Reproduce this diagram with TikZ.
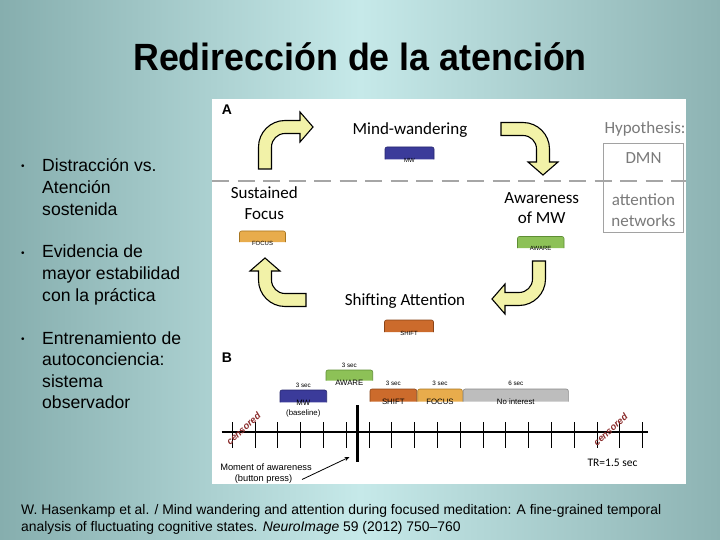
\documentclass[tikz,border=0pt]{standalone}
\usepackage{fontspec}
\setmainfont{Liberation Sans}
\newfontfamily\calfont{Carlito}
\usetikzlibrary{arrows.meta}
\definecolor{bgL}{HTML}{86AEAE}
\definecolor{bgM}{HTML}{C6E9E9}
\definecolor{bgR}{HTML}{8DB3B3}
\definecolor{arrfill}{HTML}{F2F2A8}
\definecolor{mwc}{HTML}{3B3B9A}
\definecolor{mwd}{HTML}{26266E}
\definecolor{awc}{HTML}{8DC157}
\definecolor{awd}{HTML}{5E8E34}
\definecolor{shc}{HTML}{CC6B2C}
\definecolor{shd}{HTML}{8A4418}
\definecolor{foc}{HTML}{E8AC4C}
\definecolor{fod}{HTML}{A87620}
\definecolor{nic}{HTML}{BDBDBD}
\definecolor{nid}{HTML}{888888}
\definecolor{censc}{HTML}{8A2B2B}
\definecolor{hypc}{HTML}{7A7A7A}
\newcommand\cyarrow[5]{%
\begin{scope}[shift={(#1,#2)},rotate=#3]
\filldraw[arrowshape] (-6.5,0) -- (-6.5,{-(#4-20)})
 .. controls (-6.5,{-(#4-20)-14.6}) and ({20-14.6},{-(#4+6.5)}) .. (20,{-(#4+6.5)})
 -- ({#5-13},{-(#4+6.5)}) -- ({#5-13},{-(#4+15)}) -- (#5,-#4) -- ({#5-13},{-(#4-15)})
 -- ({#5-13},{-(#4-6.5)}) -- (20,{-(#4-6.5)})
 .. controls ({20-7.45},{-(#4-6.5)}) and (6.5,{-(#4-20)-7.45}) .. (6.5,{-(#4-20)})
 -- (6.5,0) -- cycle;
\end{scope}}
\newcommand\tabbar[6]{% x1,y1,x2,y2,fill,draw
\filldraw[fill=#5,draw=#6,line width=0.6,rounded corners=2] (#1,#4) -- (#1,#2) -- (#3,#2) -- (#3,#4);}
\begin{document}
\begin{tikzpicture}[x=1pt,y=-1pt,
  arrowshape/.style={fill=arrfill,draw=black,line width=1.1,line join=miter},
  bullettext/.style={anchor=base west,inner sep=0,font=\fontsize{17.6}{20}\selectfont},
  bulletdot/.style={anchor=base,inner sep=0,font=\fontsize{10}{12}\selectfont},
  lblA/.style={anchor=base,inner sep=0,font=\calfont\fontsize{17}{20}\selectfont},
  hyp/.style={anchor=base,inner sep=0,text=hypc,font=\calfont\fontsize{17}{20}\selectfont},
  tinylbl/.style={inner sep=0,font=\fontsize{6}{7}\selectfont},
  seclbl/.style={inner sep=0,font=\fontsize{6.3}{7}\selectfont},
  barlbl/.style={inner sep=0,font=\fontsize{7.8}{9}\selectfont},
  cens/.style={inner sep=0,text=censc,rotate=42,font=\fontsize{9.5}{12}\selectfont\bfseries\itshape},
  tick/.style={line width=1.1},
  foot/.style={anchor=base west,inner sep=0,font=\fontsize{13.9}{16}\selectfont}]
\useasboundingbox (0,0) rectangle (720,540);
\shade[left color=bgL,right color=bgR,middle color=bgM] (0,0) rectangle (720,540);
% title
\node[anchor=base,inner sep=0,font=\fontsize{35.8}{40}\selectfont\bfseries] (title) at (360,70.7) {\scalebox{1}[1.06]{Redirección de la atención}};
% bullets
\node[bulletdot] (d1) at (23,170) {•};
\node[bullettext] (b11) at (42,172) {Distracción vs.};
\node[bullettext] (b12) at (42,193.6) {Atención};
\node[bullettext] (b13) at (42,215.2) {sostenida};
\node[bulletdot] (d2) at (23,256) {•};
\node[bullettext] (b21) at (42,258) {Evidencia de};
\node[bullettext] (b22) at (42,279.6) {mayor estabilidad};
\node[bullettext] (b23) at (42,301.2) {con la práctica};
\node[bulletdot] (d3) at (23,342) {•};
\node[bullettext] (b31) at (42,344) {Entrenamiento de};
\node[bullettext] (b32) at (42,365.6) {autoconciencia:};
\node[bullettext] (b33) at (42,387.2) {sistema};
\node[bullettext] (b34) at (42,408.8) {observador};
% white panel
\fill[white] (212,99) rectangle (686,484);
% panel A
\node[anchor=base,inner sep=0,font=\fontsize{14}{16}\selectfont\bfseries] (A) at (227,115) {A};
\draw[draw=hypc!70,line width=1] (603.5,143.5) rectangle (683.5,232.5);
\draw[draw=black!35,line width=2.8,dash pattern=on 17 off 8.5] (212,181) -- (686,181);
\node[lblA] (mindw) at (410,134.3) {Mind-wandering};
\node[hyp] (hypo) at (645,134) {Hypothesis:};
\node[hyp] (dmn) at (643.5,163.3) {DMN};
\node[hyp] (att1) at (643.5,206) {attention};
\node[hyp] (att2) at (643.5,226) {networks};
\node[lblA] (sus1) at (264.3,199) {Sustained};
\node[lblA] (sus2) at (264.3,219.3) {Focus};
\node[lblA] (awa1) at (541.7,203.3) {Awareness};
\node[lblA] (awa2) at (541.7,224) {of MW};
\node[lblA] (shif) at (405,305) {Shifting Attention};
% panel A bars
\tabbar{385}{147}{434}{159.5}{mwc}{mwd}
\node[tinylbl] (mwA) at (409.5,160) {MW};
\tabbar{239.5}{231}{285.5}{242}{foc}{fod}
\node[tinylbl] (foA) at (262.5,243) {FOCUS};
\tabbar{517.5}{236.5}{564}{248}{awc}{awd}
\node[tinylbl] (awA) at (540.7,248.5) {AWARE};
\tabbar{384.5}{320}{433.5}{332}{shc}{shd}
\node[tinylbl] (shA) at (409,333) {SHIFT};
% curved arrows
\cyarrow{265}{169}{0}{42}{48}
\cyarrow{501}{129}{-90}{42}{46}
\cyarrow{539}{261}{180}{38}{47}
\cyarrow{306}{300}{90}{41}{42}
% panel B
\node[anchor=base,inner sep=0,font=\fontsize{14}{16}\selectfont\bfseries] (B) at (227,362) {B};
\tabbar{280}{390}{326.7}{402.3}{mwc}{mwd}
\tabbar{326}{370}{372.7}{380.7}{awc}{awd}
\tabbar{370}{389}{416.7}{401.7}{shc}{shd}
\tabbar{417.7}{389}{462.3}{401.7}{foc}{fod}
\tabbar{463.3}{389}{568.3}{401.7}{nic}{nid}
\node[seclbl] (s1) at (303.3,385.5) {3 sec};
\node[seclbl] (s2) at (349.3,365) {3 sec};
\node[seclbl] (s3) at (393.3,383.3) {3 sec};
\node[seclbl] (s4) at (440,383.3) {3 sec};
\node[seclbl] (s5) at (515.8,383.3) {6 sec};
\node[barlbl] (mwB) at (303.3,403.3) {MW};
\node[barlbl] (mwB2) at (303.3,413.5) {(baseline)};
\node[barlbl] (awB) at (349.3,382.5) {AWARE};
\node[barlbl] (shB) at (393.3,402) {SHIFT};
\node[barlbl] (foB) at (440,402) {FOCUS};
\node[barlbl] (niB) at (515.8,401.5) {No interest};
% timeline
\coordinate (tl0) at (221.7,432.3);
\coordinate (tl1) at (648.3,432.3);
\draw[line width=2] (tl0) -- (tl1);
\foreach \k in {0,...,18}{
  \draw[tick] ({232.3+22.8*\k},422) -- ({232.3+22.8*\k},448);
}
\coordinate (mom0) at (357.7,405);
\coordinate (mom1) at (357.7,462);
\draw[line width=3] (mom0) -- (mom1);
\node[cens] (c1) at (243.5,428.5) {censored};
\node[cens] (c2) at (610.5,429.5) {censored};
\node[anchor=base,inner sep=0,font=\fontsize{9.3}{11}\selectfont] (mom) at (266,470.7) {Moment of awareness};
\node[anchor=base,inner sep=0,font=\fontsize{9.3}{11}\selectfont] (mom2) at (263.5,481.7) {(button press)};
\coordinate (pa) at (302,479.5);
\coordinate (pb) at (349.5,457);
\draw[line width=0.8,-{Stealth[length=5,width=4]}] (pa) -- (pb);
\node[anchor=base,inner sep=0,font=\calfont\fontsize{11.5}{13}\selectfont] (tr) at (612.5,466) {TR=1.5 sec};
% footer
\node[foot] (f1) at (21,514) {W. Hasenkamp et al. / Mind wandering and attention during focused meditation: A fine-grained temporal};
\node[foot] (f2) at (21,531) {analysis of fluctuating cognitive states. \textit{NeuroImage} 59 (2012) 750–760};
\end{tikzpicture}
\end{document}
